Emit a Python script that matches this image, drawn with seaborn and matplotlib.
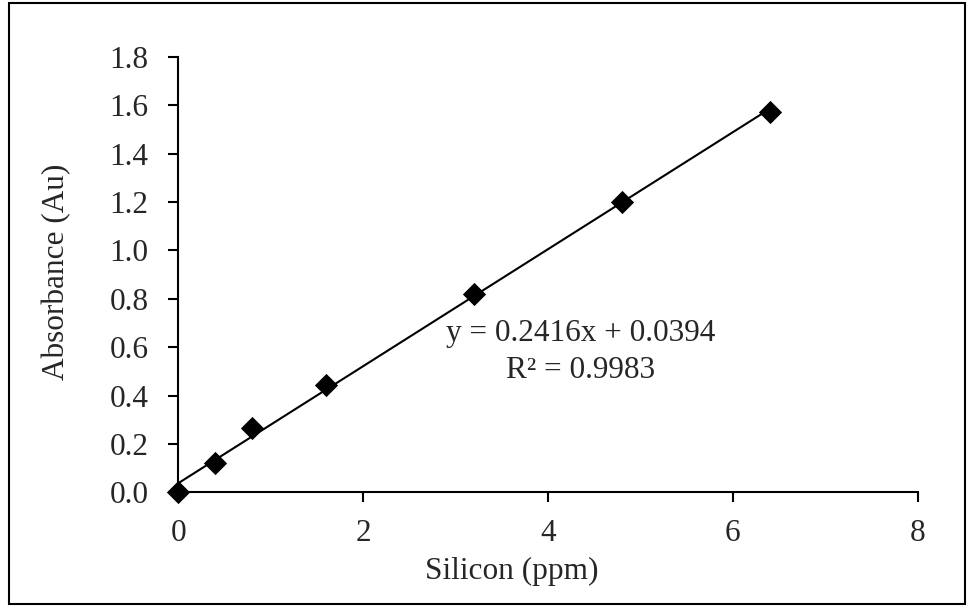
import numpy as np
import pandas as pd
import seaborn as sns
import matplotlib.pyplot as plt
from matplotlib import font_manager
from matplotlib.patches import Rectangle

silicon_ppm = [0, 0.4, 0.8, 1.6, 3.2, 4.8, 6.4]
absorbance = [0.0, 0.12, 0.265, 0.445, 0.82, 1.2, 1.572]
x_ticks = [0, 2, 4, 6, 8]
y_ticks = [0.0, 0.2, 0.4, 0.6, 0.8, 1.0, 1.2, 1.4, 1.6, 1.8]
equation_text = "y = 0.2416x + 0.0394"
r2_text = "R² = 0.9983"

df = pd.DataFrame({"Silicon (ppm)": silicon_ppm, "Absorbance (Au)": absorbance})

sns.set_style("ticks")

# pick a Times-like font that is really installed
installed = {f.name for f in font_manager.fontManager.ttflist}
serif_font = "DejaVu Serif"
for name in ["Times New Roman", "Liberation Serif", "Tinos", "Nimbus Roman", "TeX Gyre Termes"]:
    if name in installed:
        serif_font = name
        break
plt.rcParams["font.family"] = [serif_font, "DejaVu Serif"]
fs = 22.5

fig = plt.figure(figsize=(9.68, 6.07), dpi=100)
ax = fig.add_axes([0.184, 0.189, 0.764, 0.717])

sns.regplot(data=df, x="Silicon (ppm)", y="Absorbance (Au)", ax=ax, ci=None,
            marker="D", color="black",
            scatter_kws={"s": 140, "alpha": 1, "clip_on": False, "zorder": 3, "linewidths": 0},
            line_kws={"linewidth": 1.5, "color": "black"})

ax.set_xlim(0, 8)
ax.set_ylim(0, 1.8)
ax.set_xticks(x_ticks)
ax.set_yticks(y_ticks)
ax.set_xticklabels([str(t) for t in x_ticks])
ax.set_yticklabels([f"{t:.1f}" for t in y_ticks])
ax.tick_params(axis="both", direction="out", length=7.5, width=1.5, color="black",
               labelsize=fs)
ax.tick_params(axis="y", pad=14)
ax.tick_params(axis="x", pad=12)
for side in ["top", "right"]:
    ax.spines[side].set_visible(False)
for side in ["left", "bottom"]:
    ax.spines[side].set_linewidth(1.5)
    ax.spines[side].set_color("black")

ax.set_xlabel("Silicon (ppm)", fontsize=fs, va="center")
ax.set_ylabel("Absorbance (Au)", fontsize=fs, va="center")
ax.xaxis.set_label_coords(0.451, -0.181)
ax.yaxis.set_label_coords(-0.164, 0.506)

ax.text(4.35, 0.658, equation_text, ha="center", va="center", fontsize=fs)
ax.text(4.35, 0.505, r2_text, ha="center", va="center", fontsize=fs)

# outer chart border like the Excel chart area
fig.patches.append(Rectangle((0.009, 0.005), 0.988, 0.99, transform=fig.transFigure,
                             fill=False, edgecolor="black", linewidth=1.5))

fig.savefig("out.png", dpi=100)
